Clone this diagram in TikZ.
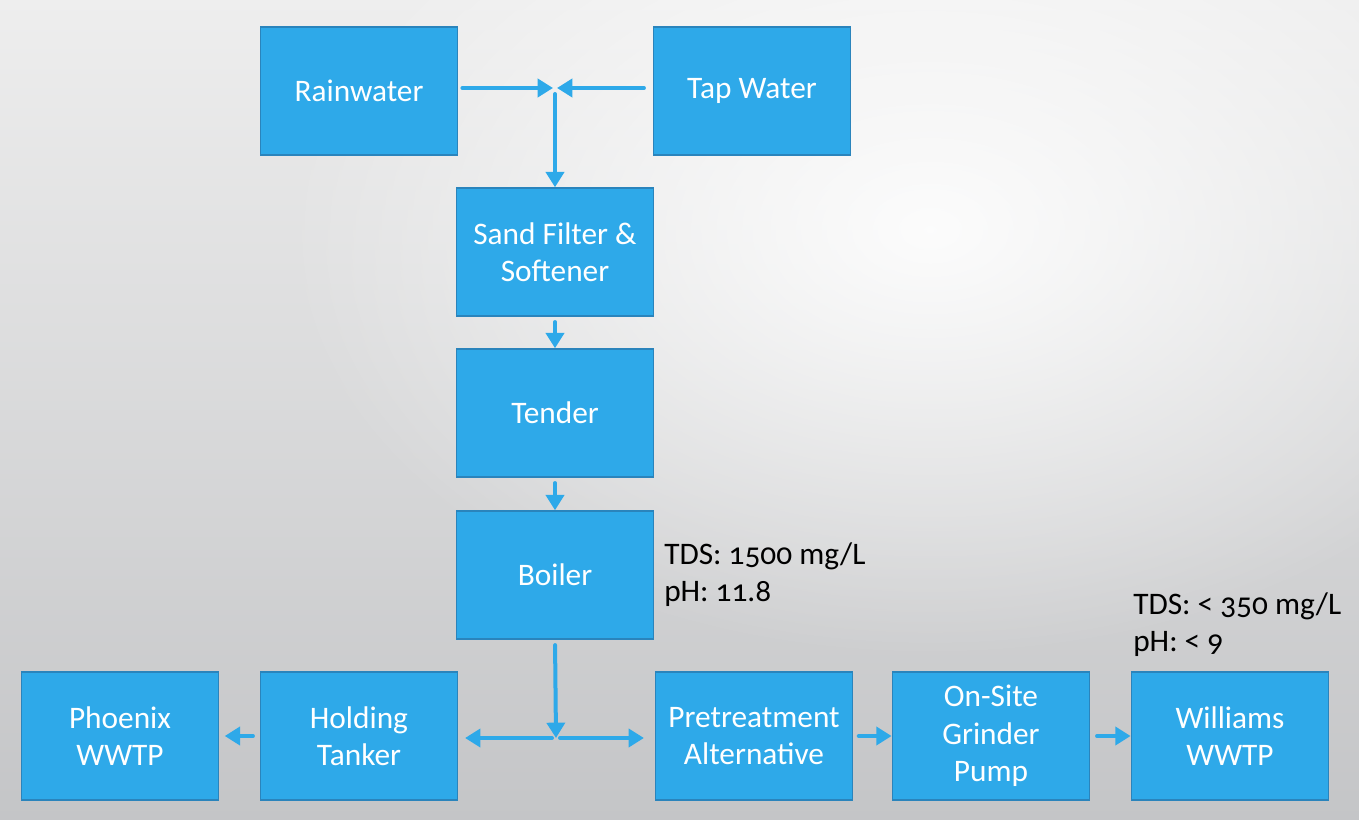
\documentclass[tikz,border=0pt]{standalone}
\usepackage{fontspec}
\setmainfont{Carlito}[Numbers=OldStyle]
\usepackage{xcolor}
\usetikzlibrary{arrows.meta, positioning, fadings}
\definecolor{celeste}{HTML}{2EA9E9}
\definecolor{bordeazul}{HTML}{2A84BC}
\definecolor{fondoalto}{HTML}{EEEEEE}
\definecolor{fondobajo}{HTML}{C4C5C7}
\tikzfading[name=brillo, inner color=transparent!0, outer color=transparent!100]
\tikzset{
  every picture/.style={font=\fontsize{23.5}{28}\selectfont, >=Stealth},
  proc/.style={draw=bordeazul, fill=celeste, text=white, line width=1.1pt,
              minimum width=148pt, minimum height=96pt, align=center, inner sep=2pt},
  flujo/.style={-{Triangle[length=11.5pt,width=13.5pt]}, line width=3pt, celeste, line cap=round},
  nota/.style={anchor=north west, align=left, inner sep=0pt, text=black},
}

\begin{document}
\begin{tikzpicture}[x=0.75pt, y=-0.75pt]
  \useasboundingbox (0,0) rectangle (1359,820);
  % fondo
  \begin{scope}
    \clip (0,0) rectangle (1359,820);
    \shade[top color=fondoalto, bottom color=fondobajo] (0,0) rectangle (1359,820);
    \fill[white, path fading=brillo, fill opacity=0.9] (930,230) ellipse (650 and 430);
  \end{scope}

  % fuentes y tratamiento
  \node[proc] (lluvia) at (359,91) {Rainwater};
  \node[proc] (grifo) at (752,91) {Tap Water};
  \coordinate (union) at (555,88);
  \node[proc] (filtro) at (555,252) {Sand Filter \&\\Softener};
  \node[proc] (tender) at (555,413) {Tender};
  \node[proc] (caldera) at (555,575) {Boiler};
  \coordinate (reparto) at (556,738);

  % descarga
  \node[proc] (phoenix) at (120,736) {Phoenix\\WWTP};
  \node[proc] (tanque) at (359,736) {Holding\\Tanker};
  \node[proc] (pretrat) at (754,736) {Pretreatment\\Alternative};
  \node[proc] (bomba) at (991,736) {On-Site\\Grinder\\Pump};
  \node[proc] (williams) at (1230,736) {Williams\\WWTP};

  \node[nota] (calidad1) at (664,542) {TDS: 1500 mg/L\\pH: 11.8};
  \node[nota] (calidad2) at (1133,592) {TDS: < 350 mg/L\\pH: < 9};

  % flechas
  \draw[flujo, shorten <=3pt, shorten >=1.5pt] (lluvia.east |- union) -- (union);
  \draw[flujo, shorten <=6.5pt, shorten >=1.5pt] (grifo.west |- union) -- (union);
  \draw[flujo, shorten <=4.5pt] (union) -- (filtro.north);
  \draw[flujo, shorten <=4pt] (filtro) -- (tender);
  \draw[flujo, shorten <=4pt] (tender) -- (caldera);
  \draw[flujo, shorten <=4pt] (caldera.south) -- (reparto);
  \draw[flujo, shorten <=3pt, shorten >=5pt] (reparto) -- (tanque.east |- reparto);
  \draw[flujo, shorten <=3pt, shorten >=8pt] (reparto) -- (pretrat.west |- reparto);
  \foreach \a/\b/\s/\e in {tanque/phoenix/5pt/4pt, pretrat/bomba/4pt/0pt, bomba/williams/5pt/0pt}
    \draw[flujo, shorten <=\s, shorten >=\e] (\a) -- (\b);
\end{tikzpicture}
\end{document}
